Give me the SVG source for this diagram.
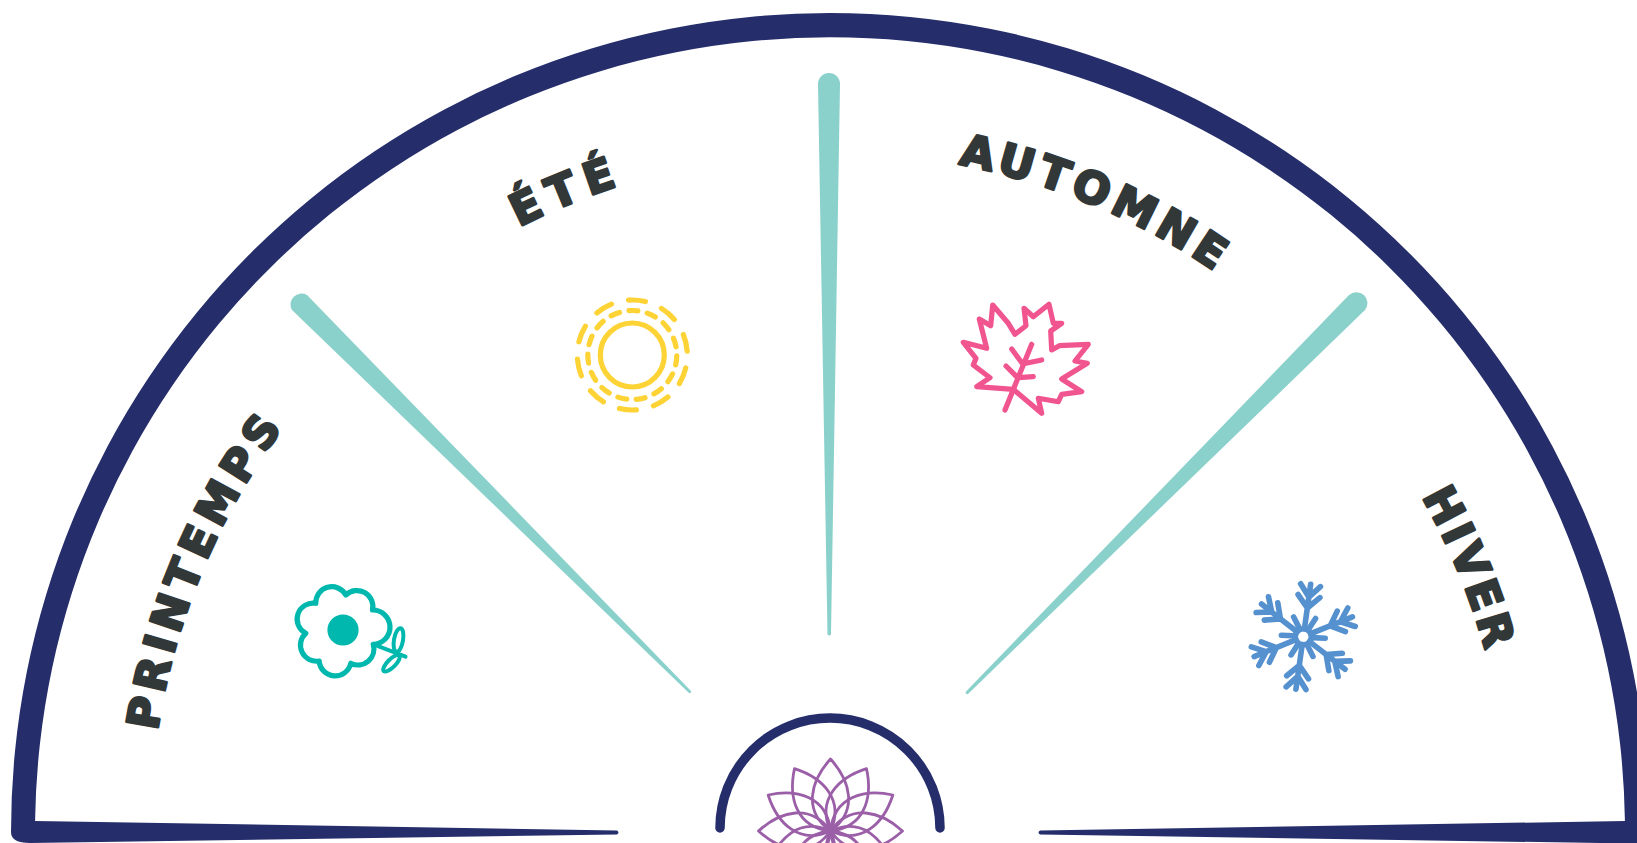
<svg xmlns="http://www.w3.org/2000/svg" width="1637" height="843" viewBox="0 0 1637 843">
<style>
.lbl{font-family:"DejaVu Sans","Liberation Sans",sans-serif;font-weight:700;font-size:44px;fill:#323838;stroke:#323838;stroke-width:2.6;stroke-linejoin:round;letter-spacing:5.5px}
.needle{fill:#8bd1cb}
.navy{fill:#252e6b}
.icon{fill:none;stroke-width:5.2;stroke-linecap:round;stroke-linejoin:round}
</style>
<defs>
<path id="ring" d="M150 832A680 680 0 0 1 1510 832"/>
<path id="petal" d="M0 0C-28 -20 -20 -50 0 -72C20 -50 28 -20 0 0Z" fill="none" stroke="#9b5fa8" stroke-width="2.8" stroke-linejoin="round"/>
<g id="arm">
<path d="M0 -8V-53M-11 -41L0 -29L11 -41M-10 -52L0 -40L10 -52"/>
<path d="M-11 -19L-5 -9" transform="rotate(-4)"/>
</g>
</defs>
<rect width="1637" height="843" fill="#fff"/>
<g id="frame">
<path class="navy" d="M11 832A819 819 0 0 1 1649 832L1649 843L1600 843L1040 834.5Q1037 832.5 1040 830.5L1624.92 821A795 795 0 0 0 35.08 821L617 830.5Q620 832.5 617 834.5L30 843Q11 843 11 832Z"/>
</g>
<g id="needles">
<path class="needle" d="M818 84A11 11 0 0 1 840 84L831 634.5A2 2 0 0 1 827.5 634.5Z"/>
<path class="needle" d="M292 310A11 11 0 0 1 307 295L691 691A1.5 1.5 0 0 1 689 693Z"/>
<path class="needle" d="M1349 295A11 11 0 0 1 1365 310L968.5 693.5A1.5 1.5 0 0 1 966 691.5Z"/>
</g>
<g id="hub">
<path d="M720 828A110 110 0 0 1 940 828" fill="none" stroke="#252e6b" stroke-width="9.5" stroke-linecap="round"/>
<g id="lotus" transform="translate(830.5 831)">
<use href="#petal"/><use href="#petal" transform="rotate(30)"/><use href="#petal" transform="rotate(60)"/><use href="#petal" transform="rotate(90)"/><use href="#petal" transform="rotate(120)"/><use href="#petal" transform="rotate(150)"/><use href="#petal" transform="rotate(210)"/><use href="#petal" transform="rotate(240)"/><use href="#petal" transform="rotate(270)"/><use href="#petal" transform="rotate(300)"/><use href="#petal" transform="rotate(330)"/>
</g>
</g>
<g id="printemps"><text class="lbl"><textPath href="#ring" startOffset="101">PRINTEMPS</textPath></text>
<g id="flower" class="icon" stroke="#00b8ad">
<path transform="translate(-2.5 0)" d="M348.3 595A16 16 0 0 1 375 610A17 17 0 0 1 375.7 644.3A16 16 0 0 1 353.3 663.3A16 16 0 0 1 321.7 661A16 16 0 0 1 308.3 633.3A16 16 0 0 1 318.3 603.3A16 16 0 0 1 348.3 595Z"/>
<circle cx="343" cy="630" r="15.6" fill="#00b8ad" stroke="none"/>
<path d="M373.5 644.3L405.5 656.7" stroke-width="4"/><ellipse cx="398.5" cy="640" rx="4.5" ry="12" transform="rotate(10 398.5 640)" stroke-width="4"/><ellipse cx="391.5" cy="663.3" rx="4" ry="11" transform="rotate(45 391.5 663.3)" stroke-width="4"/>
</g></g>
<g id="ete"><text class="lbl" style="letter-spacing:8.5px"><textPath href="#ring" startOffset="745">ÉTÉ</textPath></text>
<g id="sun" class="icon" stroke="#fdd335">
<circle cx="632.3" cy="355" r="32"/>
<circle cx="632.3" cy="355" r="44.5" stroke-dasharray="9 9.64" transform="rotate(1.2 632.3 355)"/>
<circle cx="632.3" cy="355" r="55" stroke-dasharray="17 17.56" transform="rotate(13.6 632.3 355)"/>
</g></g>
<g id="automne"><text class="lbl"><textPath href="#ring" startOffset="1197">AUTOMNE</textPath></text>
<g id="maple" class="icon" stroke="#f1558f">
<path d="M1013.3 389.3L976.7 386.7L990 377.7L973.3 365L976 358.3L963.3 342.3L986.7 348.3L979.3 319L990.7 325.7L992.7 305L1008.3 323.3L1015 334.3L1026 325.7L1024 308.3L1033.3 316.7L1049 304.3L1053.3 323.3L1061.7 323.3L1050.7 331L1051.7 350L1059.3 345.7L1088.3 344.3L1075 361L1087.3 363.3L1061.7 379L1081.7 391.7L1061.7 394.3L1058.3 401.7L1038.3 398.3L1041.7 413.3Z"/>
<path d="M1005 410L1031.7 344.3M1011.7 349L1022.7 364M1041.7 360L1026 363.3M1006 366L1018.3 378.3M1033.3 376.7L1018.3 377.7"/>
</g></g>
<g id="hiver"><text class="lbl" style="letter-spacing:4px"><textPath href="#ring" startOffset="1785">HIVER</textPath></text>
<g id="snowflake" class="icon" stroke="#5590cf" style="stroke-width:5.6">
<circle cx="1303.3" cy="636.7" r="8"/>
<g transform="translate(1303.3 636.7)">
<use href="#arm" transform="rotate(8)"/><use href="#arm" transform="rotate(68)"/><use href="#arm" transform="rotate(128)"/><use href="#arm" transform="rotate(188)"/><use href="#arm" transform="rotate(248)"/><use href="#arm" transform="rotate(308)"/>
</g>
</g></g>
</svg>
